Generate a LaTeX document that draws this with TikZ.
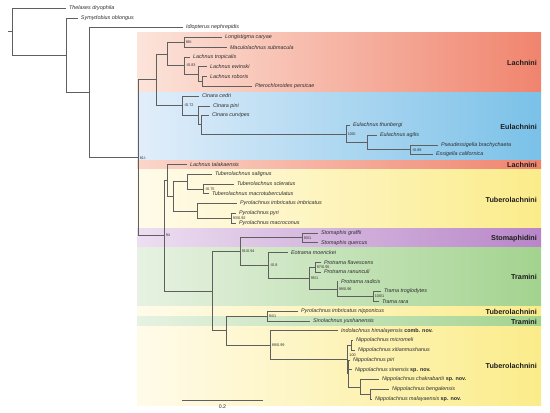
\documentclass[tikz,border=0pt]{standalone}
\usepackage{fontspec}
\setmainfont{Liberation Sans}
\definecolor{treegray}{RGB}{95,95,95}
\definecolor{txt}{RGB}{45,45,45}
\definecolor{cladetxt}{RGB}{30,30,30}
\definecolor{lachL}{RGB}{252,228,218}
\definecolor{lachR}{RGB}{240,132,110}
\definecolor{euL}{RGB}{226,238,250}
\definecolor{euR}{RGB}{122,193,232}
\definecolor{tubL}{RGB}{255,251,234}
\definecolor{tubR}{RGB}{251,236,138}
\definecolor{stoL}{RGB}{237,223,241}
\definecolor{stoR}{RGB}{184,134,200}
\definecolor{traL}{RGB}{231,242,226}
\definecolor{traR}{RGB}{163,211,143}
\newcommand{\nov}[1]{\textup{\textbf{#1}}}
\tikzset{
  edge/.style={draw=treegray, line width=0.6pt},
  tax/.style={anchor=west, inner sep=0pt, xshift=2.8pt, font=\fontsize{5.4}{6}\selectfont\itshape, text=txt},
  sup/.style={anchor=west, inner sep=0pt, xshift=1.6pt, font=\fontsize{3.8}{4}\selectfont, text=txt},
  clade/.style={anchor=east, inner sep=0pt, font=\fontsize{7.2}{8}\selectfont\bfseries, text=cladetxt},
  band/.style={draw=none},
}
\begin{document}
\begin{tikzpicture}[x=1pt,y=-1pt]
\useasboundingbox (0,0) rectangle (550,413);
\fill[white] (0,0) rectangle (550,413);
% ---- clade bands
\shade[band,left color=lachL,right color=lachR] (137,32.5) rectangle (541,92);
\shade[band,left color=euL,right color=euR] (137,92) rectangle (541,160);
\shade[band,left color=lachL!85!lachR,right color=lachR] (137,160) rectangle (541,169.3);
\shade[band,left color=tubL,right color=tubR] (137,169.3) rectangle (541,228);
\shade[band,left color=stoL,right color=stoR] (137,228) rectangle (541,247.5);
\shade[band,left color=traL,right color=traR] (137,247.5) rectangle (541,306);
\shade[band,left color=tubL,right color=tubR] (137,306) rectangle (541,316);
\shade[band,left color=traL,right color=traR] (137,316) rectangle (541,326);
\shade[band,left color=tubL,right color=tubR] (137,326) rectangle (541,405);
% ---- clade labels
\node[clade] (cl1) at (537,63) {Lachnini};
\node[clade] (cl2) at (537,126.5) {Eulachnini};
\node[clade] (cl3) at (537,165) {Lachnini};
\node[clade] (cl4) at (537,199.5) {Tuberolachnini};
\node[clade] (cl5) at (537,239) {Stomaphidini};
\node[clade] (cl6) at (537,277) {Tramini};
\node[clade] (cl7) at (537,311.5) {Tuberolachnini};
\node[clade] (cl8) at (537,321.8) {Tramini};
\node[clade] (cl9) at (537,366) {Tuberolachnini};
% ---- internal nodes
\coordinate (rs) at (8,31.6);
\coordinate (R) at (12,31.6);
\coordinate (N1) at (66,55.2);
\coordinate (N2) at (89,92.6);
\coordinate (N3) at (138,157.65);
\coordinate (N4) at (156,79.7);
\coordinate (N5) at (167,53.8);
\coordinate (N6) at (184,42.2);
\coordinate (N7) at (184,65.45);
\coordinate (N8) at (198,74);
\coordinate (N9) at (202,81.3);
\coordinate (N10) at (182,105.6);
\coordinate (N11) at (198,115.25);
\coordinate (N12) at (201,124.7);
\coordinate (N13) at (346,133.85);
\coordinate (N14) at (367,142.4);
\coordinate (N15) at (410,149.75);
\coordinate (L0) at (164,235.6);
\coordinate (Q1) at (167,180.3);
\coordinate (P0) at (173,196.2);
\coordinate (P1) at (187,181.5);
\coordinate (P2) at (203,188.85);
\coordinate (P3) at (197,210.85);
\coordinate (P4) at (231,218.2);
\coordinate (W) at (212,290.95);
\coordinate (S0) at (240,251.5);
\coordinate (S1) at (302,237.7);
\coordinate (M5) at (268,265.2);
\coordinate (M4) at (309,278);
\coordinate (M1) at (315,267);
\coordinate (M2) at (337,289);
\coordinate (M3) at (373,296.4);
\coordinate (U0) at (226,330.4);
\coordinate (U1) at (267,315.9);
\coordinate (V0) at (270,344.95);
\coordinate (V1) at (347,359.3);
\coordinate (V1a) at (351,345.25);
\coordinate (Vb) at (348,373.4);
\coordinate (V3) at (360,386.8);
\coordinate (V4) at (370,394.1);
% ---- tips
\coordinate (T0) at (66,8);
\coordinate (T1) at (78,17.8);
\coordinate (T2) at (183,27.6);
\coordinate (T3) at (222,37.3);
\coordinate (T4) at (227,47.1);
\coordinate (T5) at (190,56.9);
\coordinate (T6) at (207,66.7);
\coordinate (T7) at (207,76.4);
\coordinate (T8) at (252,86.2);
\coordinate (T9) at (199,96);
\coordinate (T10) at (210,105.8);
\coordinate (T11) at (209,115.5);
\coordinate (T12) at (350,125.3);
\coordinate (T13) at (377,135.1);
\coordinate (T14) at (438,144.9);
\coordinate (T15) at (433,154.6);
\coordinate (T16) at (187,164.4);
\coordinate (T17) at (212,174.2);
\coordinate (T18) at (234,184);
\coordinate (T19) at (209,193.7);
\coordinate (T20) at (237,203.5);
\coordinate (T21) at (236,213.3);
\coordinate (T22) at (236,223.1);
\coordinate (T23) at (318,232.8);
\coordinate (T24) at (318,242.6);
\coordinate (T25) at (288,252.4);
\coordinate (T26) at (321,262.2);
\coordinate (T27) at (321,271.9);
\coordinate (T28) at (338,281.7);
\coordinate (T29) at (381,291.5);
\coordinate (T30) at (379,301.3);
\coordinate (T31) at (298,311);
\coordinate (T32) at (310,320.8);
\coordinate (T33) at (338,330.6);
\coordinate (T34) at (353,340.4);
\coordinate (T35) at (355,350.1);
\coordinate (T36) at (350,359.9);
\coordinate (T37) at (352,369.7);
\coordinate (T38) at (379,379.5);
\coordinate (T39) at (389,389.2);
\coordinate (T40) at (372,399);
% ---- branches
\draw[edge] (rs) -- (R);
\foreach \a/\b in {R/T0,R/N1,N1/T1,N1/N2,N2/T2,N2/N3,N3/N4,N3/L0,
  N4/N5,N4/N10,N5/N6,N5/N7,N6/T3,N6/T4,N7/T5,N7/N8,N8/T6,N8/N9,N9/T7,N9/T8,
  N10/T9,N10/N11,N11/T10,N11/N12,N12/T11,N12/N13,N13/T12,N13/N14,N14/T13,N14/N15,N15/T14,N15/T15,
  L0/Q1,L0/W,Q1/T16,Q1/P0,P0/P1,P0/P3,P1/T17,P1/P2,P2/T18,P2/T19,P3/T20,P3/P4,P4/T21,P4/T22,
  W/S0,W/U0,S0/S1,S0/M5,S1/T23,S1/T24,M5/T25,M5/M4,M4/M1,M4/M2,M1/T26,M1/T27,M2/T28,M2/M3,M3/T29,M3/T30,
  U0/U1,U0/V0,U1/T31,U1/T32,V0/T33,V0/V1,V1/V1a,V1/Vb,V1a/T34,V1a/T35,Vb/T36,Vb/T37,Vb/V3,V3/T38,V3/V4,V4/T39,V4/T40}
  {\draw[edge] (\a) |- (\b);}
% ---- tip labels
\node[tax] (l0) at (T0) {Thelaxes dryophila};
\node[tax] (l1) at (T1) {Symydobius oblongus};
\node[tax] (l2) at (T2) {Idiopterus nephrepidis};
\node[tax] (l3) at (T3) {Longistigma caryae};
\node[tax] (l4) at (T4) {Maculolachnus submacula};
\node[tax] (l5) at (T5) {Lachnus tropicalis};
\node[tax] (l6) at (T6) {Lachnus ewinski};
\node[tax] (l7) at (T7) {Lachnus roboris};
\node[tax] (l8) at (T8) {Pterochloroides persicae};
\node[tax] (l9) at (T9) {Cinara cedri};
\node[tax] (l10) at (T10) {Cinara pini};
\node[tax] (l11) at (T11) {Cinara curvipes};
\node[tax] (l12) at (T12) {Eulachnus thunbergi};
\node[tax] (l13) at (T13) {Eulachnus agilis};
\node[tax] (l14) at (T14) {Pseudessigella brachychaeta};
\node[tax] (l15) at (T15) {Essigella californica};
\node[tax] (l16) at (T16) {Lachnus talakaensis};
\node[tax] (l17) at (T17) {Tuberolachnus salignus};
\node[tax] (l18) at (T18) {Tuberolachnus scleratus};
\node[tax] (l19) at (T19) {Tuberolachnus macrotuberculatus};
\node[tax] (l20) at (T20) {Pyrolachnus imbricatus imbricatus};
\node[tax] (l21) at (T21) {Pyrolachnus pyri};
\node[tax] (l22) at (T22) {Pyrolachnus macroconus};
\node[tax] (l23) at (T23) {Stomaphis graffii};
\node[tax] (l24) at (T24) {Stomaphis quercus};
\node[tax] (l25) at (T25) {Eotrama moerickei};
\node[tax] (l26) at (T26) {Protrama flavescens};
\node[tax] (l27) at (T27) {Protrama ranunculi};
\node[tax] (l28) at (T28) {Protrama radicis};
\node[tax] (l29) at (T29) {Trama troglodytes};
\node[tax] (l30) at (T30) {Trama rara};
\node[tax] (l31) at (T31) {Pyrolachnus imbricatus nipponicus};
\node[tax] (l32) at (T32) {Sinolachnus yushanensis};
\node[tax] (l33) at (T33) {Indolachnus himalayensis \nov{comb. nov.}};
\node[tax] (l34) at (T34) {Nippolachnus micromeli};
\node[tax] (l35) at (T35) {Nippolachnus xitianmushanus};
\node[tax] (l36) at (T36) {Nippolachnus piri};
\node[tax] (l37) at (T37) {Nippolachnus sinensis \nov{sp. nov.}};
\node[tax] (l38) at (T38) {Nippolachnus chakrabartii \nov{sp. nov.}};
\node[tax] (l39) at (T39) {Nippolachnus bengalensis};
\node[tax] (l40) at (T40) {Nippolachnus malayaensis \nov{sp. nov.}};
% ---- support values
\node[sup] (s3) at (N3) {81/-};
\node[sup] (s6) at (N6) {88/-};
\node[sup] (s7) at (N7) {-/0.83};
\node[sup] (s10) at (N10) {-/0.72};
\node[sup] (s13) at (N13) {100/-};
\node[sup] (s15) at (N15) {-/0.89};
\node[sup] (sL0) at (L0) {94};
\node[sup] (sP2) at (P2) {-/0.75};
\node[sup] (sP4) at (P4) {93/0.92};
\node[sup] (sS0) at (S0) {91/0.94};
\node[sup] (sS1) at (S1) {93/1};
\node[sup] (sM5) at (M5) {-/0.8};
\node[sup] (sM4) at (M4) {95/1};
\node[sup] (sM1) at (M1) {97/0.95};
\node[sup] (sM2) at (M2) {99/0.96};
\node[sup] (sM3) at (M3) {100/1};
\node[sup] (sU1) at (U1) {94/1};
\node[sup] (sV0) at (V0) {89/0.99};
\node[sup, anchor=south west, xshift=0.6pt, yshift=2.4pt] (sV1) at (V1) {100};
% ---- scale bar
\coordinate (sbA) at (182,400.5);
\coordinate (sbB) at (263,400.5);
\draw[edge] (sbA) -- (sbB);
\node[font=\fontsize{5.2}{6}\selectfont, text=txt, inner sep=0pt] (sbl) at (222.5,406.5) {0.2};
\end{tikzpicture}
\end{document}
